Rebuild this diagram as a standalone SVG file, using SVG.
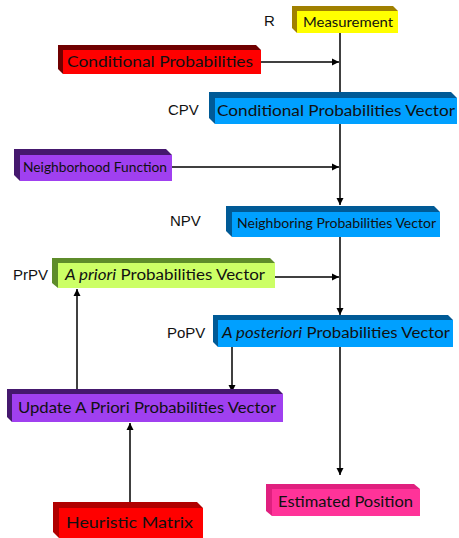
<svg xmlns="http://www.w3.org/2000/svg" width="459" height="538" viewBox="0 0 459 538">
<style>
.t{font-family:Lato,"Open Sans","Liberation Sans",sans-serif;fill:#111;}
.lb{font-family:"Liberation Sans",Arial,sans-serif;font-size:15px;fill:#111;}
.ln{stroke:#000;stroke-width:1.5;fill:none;}
.ar{stroke:#000;stroke-width:1.5;fill:none;marker-end:url(#ah);}
</style>
<defs>
<marker id="ah" markerWidth="8" markerHeight="8" refX="7" refY="4" orient="auto" markerUnits="userSpaceOnUse">
<path d="M0,0.5 L7,4 L0,7.5 Z" fill="#000"/>
</marker>
</defs>
<rect width="459" height="538" fill="#fff"/>
<g id="connectors">
<line class="ln" x1="340" y1="33" x2="340" y2="98"/>
<line class="ar" x1="340" y1="124" x2="340" y2="205"/>
<line class="ar" x1="261" y1="62" x2="339" y2="62"/>
<line class="ar" x1="172" y1="167" x2="339" y2="167"/>
<line class="ar" x1="340" y1="237" x2="340" y2="315"/>
<line class="ar" x1="275" y1="277" x2="339" y2="277"/>
<line class="ar" x1="232" y1="347" x2="232" y2="392"/>
<line class="ar" x1="340" y1="347" x2="340" y2="475"/>
<line class="ar" x1="77" y1="389" x2="77" y2="289"/>
<line class="ar" x1="130" y1="502" x2="130" y2="423"/>
</g>
<g id="measurement">
<polygon points="292,6 393,6 398,11 398,33 297,33 292,28" fill="#A08000"/>
<rect x="297" y="11" width="101" height="22" fill="#FFFF00"/>
<text class="t" x="303" y="27" font-size="13.5" textLength="90" lengthAdjust="spacingAndGlyphs">Measurement</text>
</g>
<text class="lb" x="264" y="26">R</text>
<g id="cond-prob">
<polygon points="58,45 256,45 261,50 261,74 63,74 58,69" fill="#700000"/>
<rect x="63" y="50" width="198" height="24" fill="#FF0000"/>
<text class="t" x="67" y="67" font-size="16" textLength="186" lengthAdjust="spacingAndGlyphs">Conditional Probabilities</text>
</g>
<g id="cpv">
<polygon points="209,92 451,92 457,98 457,124 215,124 209,118" fill="#005A96"/>
<rect x="215" y="98" width="242" height="26" fill="#00A0FF"/>
<text class="t" x="217" y="116" font-size="16" textLength="238" lengthAdjust="spacingAndGlyphs">Conditional Probabilities Vector</text>
</g>
<text class="lb" x="168" y="115">CPV</text>
<g id="neighborhood">
<polygon points="14,149 166,149 172,155 172,181 20,181 14,175" fill="#45186E"/>
<rect x="20" y="155" width="152" height="26" fill="#A040F0"/>
<text class="t" x="23" y="172" font-size="13" textLength="144" lengthAdjust="spacingAndGlyphs">Neighborhood Function</text>
</g>
<g id="npv">
<polygon points="226,206 434,206 440,212 440,237 232,237 226,231" fill="#005A96"/>
<rect x="232" y="212" width="208" height="25" fill="#00A0FF"/>
<text class="t" x="237" y="228" font-size="13.5" textLength="199" lengthAdjust="spacingAndGlyphs">Neighboring Probabilities Vector</text>
</g>
<text class="lb" x="170" y="226">NPV</text>
<g id="prpv">
<polygon points="52,258 270,258 275,263 275,288 58,288 52,283" fill="#5E8C2A"/>
<rect x="58" y="263" width="217" height="25" fill="#CCFF66"/>
<text class="t" x="65" y="280" font-size="15.5" textLength="200" lengthAdjust="spacingAndGlyphs"><tspan font-style="italic">A priori</tspan> Probabilities Vector</text>
</g>
<text class="lb" x="13" y="280">PrPV</text>
<g id="popv">
<polygon points="213,315 448,315 453,320 453,347 218,347 213,342" fill="#005A96"/>
<rect x="218" y="320" width="235" height="27" fill="#00A0FF"/>
<text class="t" x="222" y="338" font-size="15.5" textLength="228" lengthAdjust="spacingAndGlyphs"><tspan font-style="italic">A posteriori</tspan> Probabilities Vector</text>
</g>
<text class="lb" x="167" y="338">PoPV</text>
<g id="update">
<polygon points="7,389 278,389 283,394 283,422 12,422 7,417" fill="#45186E"/>
<rect x="12" y="394" width="271" height="28" fill="#A040F0"/>
<text class="t" x="18" y="413" font-size="16" textLength="258" lengthAdjust="spacingAndGlyphs">Update A Priori Probabilities Vector</text>
</g>
<g id="estimated">
<polygon points="266,484 414,484 420,489 420,516 272,516 266,511" fill="#E0207F"/>
<rect x="272" y="489" width="148" height="27" fill="#FF3399"/>
<text class="t" x="278" y="507" font-size="15" textLength="135" lengthAdjust="spacingAndGlyphs">Estimated Position</text>
</g>
<g id="heuristic">
<polygon points="53,502 197,502 203,508 203,538 59,538 53,532" fill="#B00000"/>
<rect x="59" y="508" width="144" height="30" fill="#FF0000"/>
<text class="t" x="66" y="528" font-size="16" textLength="127" lengthAdjust="spacingAndGlyphs">Heuristic Matrix</text>
</g>
</svg>
